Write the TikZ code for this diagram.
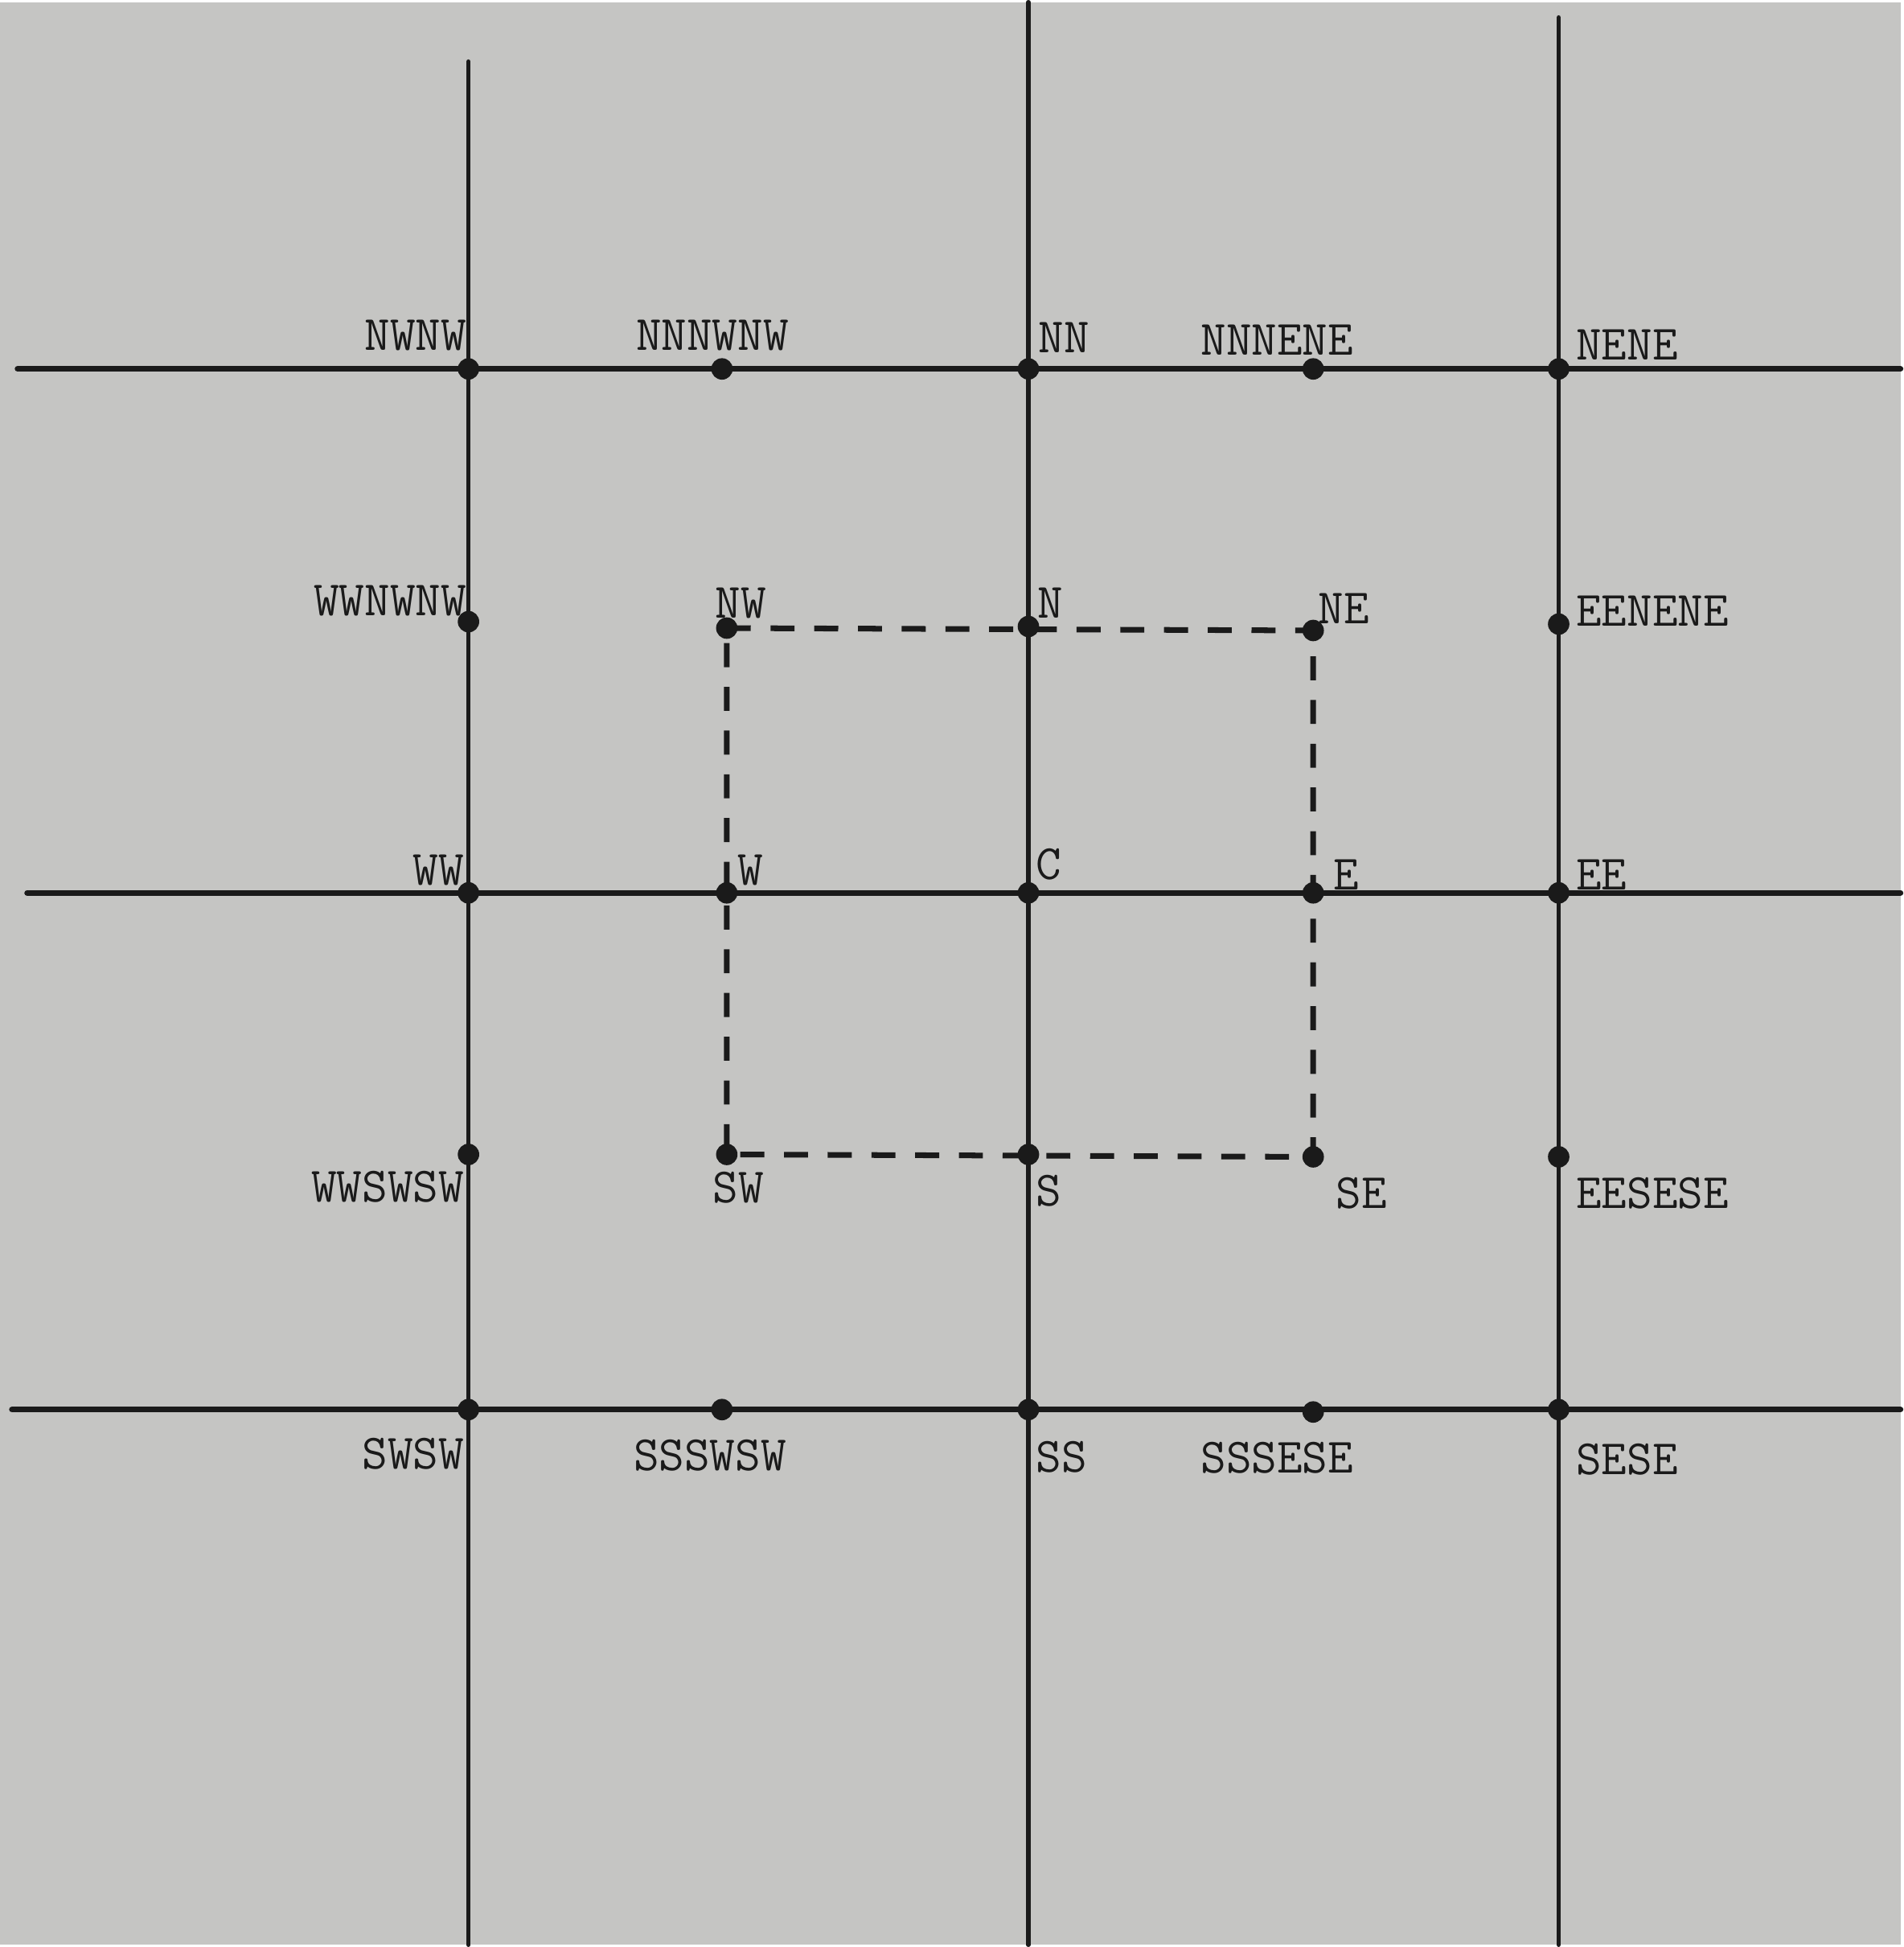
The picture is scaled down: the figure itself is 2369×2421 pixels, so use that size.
\documentclass[tikz,border=0pt]{standalone}
\usepackage{fontspec}
\definecolor{scanbg}{RGB}{197,197,195}
\definecolor{ink}{RGB}{26,26,26}
\tikzset{
	gridline/.style={draw=ink, line width=1.6pt, line cap=round},
	hgridline/.style={gridline, line width=2.1pt},
	dashline/.style={draw=ink, line width=2pt, dash pattern=on 8.5pt off 7pt},
	lbl/.style={inner sep=0pt, text=ink, font=\ttfamily\fontsize{17.5}{18}\selectfont}
}
\begin{document}
\begin{tikzpicture}[x=0.01cm, y=-0.01cm]
	\fill[scanbg] (0,0) rectangle (2369,2421);
	% grid line ends
	\coordinate (vLt) at (584,74);   \coordinate (vLb) at (584,2421);
	\coordinate (vCt) at (1282,0);   \coordinate (vCb) at (1282,2421);
	\coordinate (vRt) at (1943,19);  \coordinate (vRb) at (1943,2421);
	\coordinate (hTl) at (22,457);   \coordinate (hTr) at (2369,457);
	\coordinate (hMl) at (34,1110);  \coordinate (hMr) at (2369,1110);
	\coordinate (hBl) at (15,1754);  \coordinate (hBr) at (2369,1754);
	\foreach \a/\b in {vLt/vLb, vCt/vCb, vRt/vRb} {\draw[gridline] (\a) -- (\b);}
	\foreach \a/\b in {hTl/hTr, hMl/hMr, hBl/hBr} {\draw[hgridline] (\a) -- (\b);}
	% cell around C
	\coordinate (NW) at (906,780);  \coordinate (NE) at (1637,783);
	\coordinate (SW) at (906,1436); \coordinate (SE) at (1637,1439);
	\draw[dashline] (NW) -- (NE) -- (SE) -- (SW) -- cycle;
	% grid points
	\foreach \x/\y in {584/457, 900/457, 1282/457, 1637/457, 1943/457, 584/772, 906/780, 1282/778, 1637/783, 1943/775, 584/1110, 906/1110, 1282/1110, 1637/1110, 1943/1110, 584/1436, 906/1436, 1282/1436, 1637/1439, 1943/1439, 584/1754, 900/1754, 1282/1754, 1637/1757, 1943/1754} {\fill[ink] (\x,\y) circle (3.8pt);}
	% point labels
	\foreach \n/\a/\x/\y in {NWNW/base east/582/434, NNNWNW/base/888/434, NN/base west/1294/437, NNNENE/base/1592/440, NENE/base west/1964/446, WWNWNW/base east/582/764, NW/base west/891/767, N/base west/1293/767, NE/base west/1643/774, EENENE/base west/1964/777, WW/base east/579/1100, W/base west/919/1100, C/base west/1291/1093, E/base west/1662/1106, EE/base west/1964/1106, WWSWSW/base east/579/1495, SW/base west/888/1496, S/base west/1291/1500, SE/base west/1665/1503, EESESE/base west/1964/1503, SWSW/base east/579/1828, SSSWSW/base/885/1830, SS/base west/1291/1832, SSSESE/base/1592/1833, SESE/base west/1964/1835} {\node[lbl, anchor=\a] (t\n) at (\x,\y) {\n};}
\end{tikzpicture}
\end{document}
